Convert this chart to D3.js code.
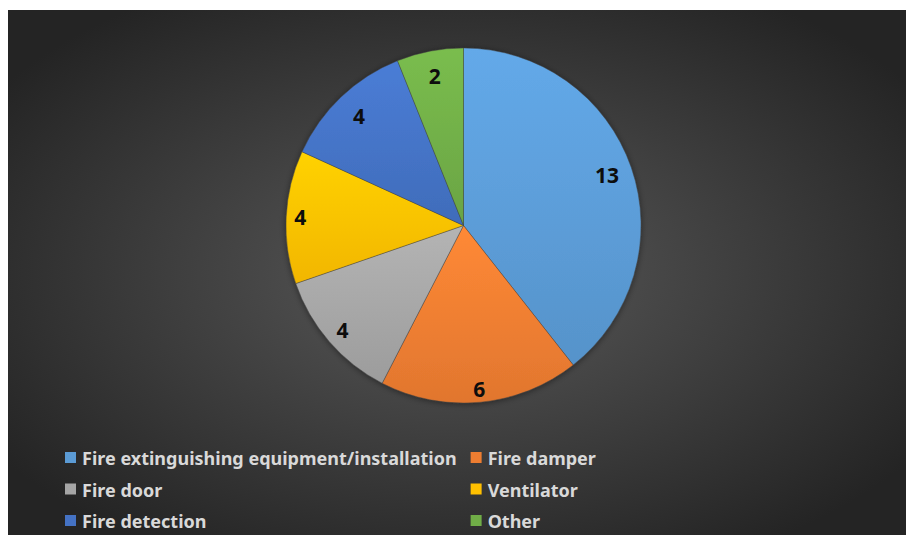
<!DOCTYPE html>
<html>
<head>
<meta charset="utf-8">
<script src="https://cdn.jsdelivr.net/npm/d3@7"></script>
<style>
  body { margin: 0; background: #fff; }
  svg { display: block; }
</style>
</head>
<body>
<svg class="chart"></svg>
<script>
// failure counts by facility type
var categories = ["Fire extinguishing equipment/installation", "Fire damper", "Fire door", "Ventilator", "Fire detection", "Other"];
var counts = [13, 6, 4, 4, 4, 2];
var colors = ["#5b9bd5", "#ed7d31", "#a5a5a5", "#ffc000", "#4472c4", "#70ad47"];

var width = 906;
var height = 535;

var svg = d3.select(".chart").attr("width", width).attr("height", height);
var defs = svg.append("defs");

// dark panel with radial shading
var bg = defs.append("radialGradient").attr("id", "bg")
  .attr("cx", "50%").attr("cy", "50%").attr("r", "62%");
bg.append("stop").attr("offset", "0%").attr("stop-color", "#5a5a5a");
bg.append("stop").attr("offset", "100%").attr("stop-color", "#242424");

svg.append("rect")
  .attr("x", 8).attr("y", 10)
  .attr("width", width - 8).attr("height", height - 10)
  .attr("fill", "url(#bg)");

// slice gradients, lighter at the top
colors.forEach(function(c, i){
  var g = defs.append("linearGradient").attr("id", "sl" + i)
    .attr("x1", 0).attr("y1", 0).attr("x2", 0).attr("y2", 1);
  g.append("stop").attr("offset", "0%").attr("stop-color", d3.color(c).brighter(0.25));
  g.append("stop").attr("offset", "100%").attr("stop-color", d3.color(c).darker(0.15));
});

var shadow = defs.append("filter").attr("id", "shadow")
  .attr("x", "-10%").attr("y", "-10%").attr("width", "120%").attr("height", "120%");
shadow.append("feDropShadow").attr("dx", 0).attr("dy", 1).attr("stdDeviation", 3)
  .attr("flood-color", "#000").attr("flood-opacity", 0.45);

var cx = 463.5, cy = 225.5, r = 177.5;

var pie = d3.pie().sort(null).value(function(d){ return d; });
var arc = d3.arc().innerRadius(0).outerRadius(r);
var arcs = pie(counts);

var g = svg.append("g").attr("transform", "translate(" + cx + "," + cy + ")");

g.append("g").attr("filter", "url(#shadow)")
  .selectAll("path")
  .data(arcs)
  .enter().append("path")
  .attr("d", arc)
  .attr("fill", function(d, i){ return "url(#sl" + i + ")"; })
  .attr("stroke", "#3f3f3f")
  .attr("stroke-opacity", 0.5)
  .attr("stroke-width", 0.8);

// data labels, placed at the inside end of each slice
var fs = 21;
var labels = g.selectAll(".lbl")
  .data(arcs)
  .enter().append("text")
  .attr("class", "lbl")
  .attr("text-anchor", "middle")
  .attr("dy", "0.36em")
  .style("font-family", "'Noto Sans', sans-serif")
  .style("font-weight", "bold")
  .style("font-size", fs + "px")
  .attr("fill", "#0d0d0d")
  .text(function(d){ return d.value; });

labels.attr("transform", function(d){
  var a = (d.startAngle + d.endAngle) / 2;
  var ux = Math.sin(a), uy = -Math.cos(a);
  var w = this.getComputedTextLength();
  var hh = fs * 0.37;
  var ext = (w / 2 + 7) * Math.abs(ux) + (uy < 0 ? hh + 16 : hh + 4) * Math.abs(uy);
  var dist = r - ext;
  return "translate(" + (ux * dist) + "," + (uy * dist) + ")";
});

// legend, two columns
var legX = 65, legY = 465, rowH = 31.5, box = 11;
var leg = svg.append("g");
var items = leg.selectAll(".item")
  .data(categories)
  .enter().append("g")
  .attr("class", "item");

items.append("text")
  .attr("x", box + 6)
  .style("font-family", "'Noto Sans', sans-serif")
  .style("font-weight", "bold")
  .style("font-size", "18px")
  .attr("fill", "#d9d9d9")
  .text(function(d){ return d; });

var maxW = 0;
items.filter(function(d, i){ return i % 2 == 0; }).select("text").each(function(){
  maxW = Math.max(maxW, this.getComputedTextLength());
});
var colW = box + 6 + maxW + 14;

items.attr("transform", function(d, i){
  return "translate(" + (legX + (i % 2) * colW) + "," + (legY + Math.floor(i / 2) * rowH) + ")";
});

items.append("rect")
  .attr("x", 0).attr("y", -13)
  .attr("width", box).attr("height", box)
  .attr("fill", function(d, i){ return colors[i]; });
</script>
</body>
</html>
